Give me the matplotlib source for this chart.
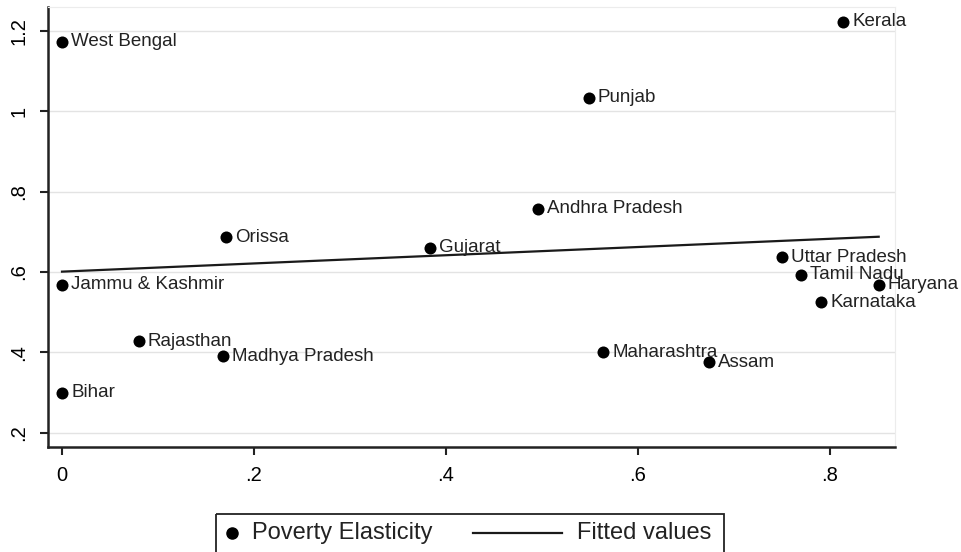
import numpy as np
import matplotlib
matplotlib.use("Agg")
import matplotlib.pyplot as plt
from matplotlib.lines import Line2D
from matplotlib.patches import Rectangle
import matplotlib.transforms as mtransforms

plt.rcParams['font.family'] = ['Liberation Sans', 'DejaVu Sans']

states = ["West Bengal", "Kerala", "Punjab", "Andhra Pradesh", "Orissa", "Gujarat",
          "Uttar Pradesh", "Tamil Nadu", "Haryana", "Karnataka", "Maharashtra", "Assam",
          "Jammu & Kashmir", "Rajasthan", "Madhya Pradesh", "Bihar"]
x_vals = [0.0, 0.814, 0.549, 0.496, 0.171, 0.383,
          0.750, 0.770, 0.851, 0.791, 0.564, 0.674,
          0.0, 0.080, 0.168, 0.0]
y_vals = [1.172, 1.222, 1.033, 0.757, 0.687, 0.660,
          0.637, 0.593, 0.568, 0.525, 0.400, 0.376,
          0.568, 0.428, 0.391, 0.300]

# fitted line
fit_intercept = 0.601
fit_slope = 0.102

xticks = [0, 0.2, 0.4, 0.6, 0.8]
xticklabels = ["0", ".2", ".4", ".6", ".8"]
yticks = [0.2, 0.4, 0.6, 0.8, 1.0, 1.2]
yticklabels = [".2", ".4", ".6", ".8", "1", "1.2"]
legend_labels = ["Poverty Elasticity", "Fitted values"]

W, H = 962, 552
fig = plt.figure(figsize=(W/100, H/100), dpi=100)
ax = fig.add_axes([48/W, 1-447/H, (895-48)/W, (447-7)/H])

x = np.array(x_vals)
y = np.array(y_vals)

xf = np.array([x.min(), x.max()])
yf = fit_intercept + fit_slope * xf
ax.plot(xf, yf, color='#1a1a1a', lw=1.6, zorder=2)
ax.scatter(x, y, s=75, color='black', zorder=3, linewidths=0)

for s, xi, yi in zip(states, x, y):
    ax.annotate(s, (xi, yi), xytext=(6.5, 0), textcoords='offset points',
                va='center', ha='left', fontsize=13.5, color='#222222', zorder=4)

ax.set_xlim(-0.0146, 0.868)
ax.set_ylim(0.165, 1.259)
ax.set_xticks(xticks)
ax.set_xticklabels(xticklabels, fontsize=14.5)
ax.set_yticks(yticks)
ax.set_yticklabels(yticklabels, fontsize=14.5, rotation=90, va='center')
ax.grid(axis='y', color='#e3e3e3', lw=1)
ax.set_axisbelow(True)
ax.tick_params(axis='both', direction='out', length=6, width=1.5, color='#222222')
ax.tick_params(axis='x', pad=8)
ax.tick_params(axis='y', pad=8)
for side in ['left', 'bottom']:
    ax.spines[side].set_linewidth(1.8)
    ax.spines[side].set_color('#222222')
for side in ['top', 'right']:
    ax.spines[side].set_linewidth(0.8)
    ax.spines[side].set_color('#ececec')

# legend drawn in figure pixel coordinates (Stata style)
pix = mtransforms.Affine2D().scale(1/W, -1/H).translate(0, 1) + fig.transFigure
fig.patches.append(Rectangle((216, 514), 508, 50, transform=pix, fill=False,
                             edgecolor='#222222', lw=1.3))
fig.lines.append(Line2D([232], [533], transform=pix, marker='o', color='black',
                        markersize=8, ls='none'))
fig.text(252, 533, legend_labels[0], transform=pix, fontsize=17, va='center',
         ha='left', color='#222222')
fig.lines.append(Line2D([473, 562], [533, 533], transform=pix, color='#1a1a1a', lw=1.6))
fig.text(577, 533, legend_labels[1], transform=pix, fontsize=17, va='center',
         ha='left', color='#222222')

fig.savefig("out.png", dpi=100)
